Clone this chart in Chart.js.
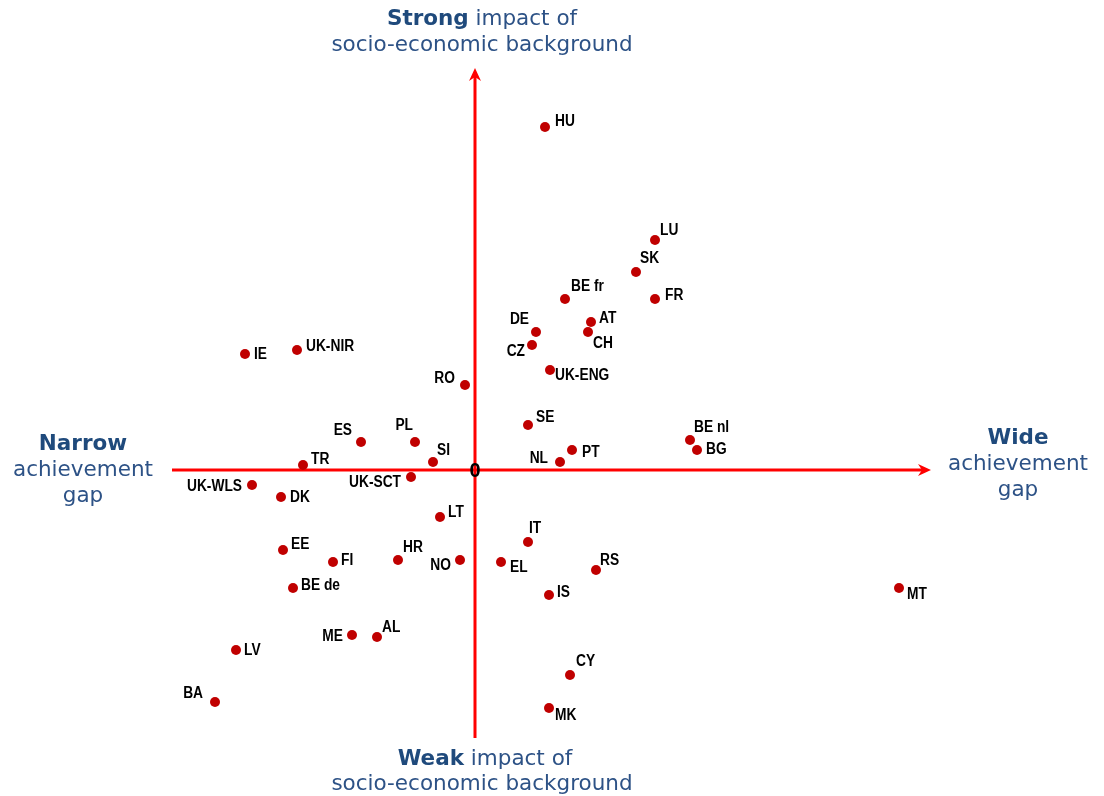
<!DOCTYPE html>
<html>
<head>
<meta charset="utf-8">
<title>Achievement gap vs socio-economic impact</title>
<script src="https://cdn.jsdelivr.net/npm/chart.js@4.4.1/dist/chart.umd.min.js"></script>
<style>
html, body { margin: 0; padding: 0; background: #ffffff; }
.chart-box { position: relative; width: 1104px; height: 796px; }
</style>
</head>
<body>
<div class="chart-box"><canvas id="chartCanvasQuadrant"></canvas></div>

<script>
// country codes and their position (x: achievement gap, y: impact of background)
var countries = ['HU','LU','SK','BE fr','FR','AT','DE','CH','CZ','UK-ENG',
  'RO','IE','UK-NIR','ES','PL','SI','TR','UK-SCT','UK-WLS','DK',
  'SE','PT','NL','BE nl','BG','LT','EE','FI','HR','NO',
  'BE de','ME','AL','LV','BA','IT','EL','RS','IS','MT','CY','MK'];
var gapValues = [7.0, 18.0, 16.1, 9.0, 18.0, 11.6, 6.1, 11.3, 5.7, 7.5,
  -1.0, -23.0, -17.8, -11.4, -6.0, -4.2, -17.2, -6.4, -22.3, -19.4,
  5.3, 9.7, 8.5, 21.5, 22.2, -3.5, -19.2, -14.2, -7.7, -1.5,
  -18.2, -12.3, -9.8, -23.9, -26.0, 5.3, 2.6, 12.1, 7.4, 42.4, 9.5, 7.4];
var impactValues = [34.3, 23.0, 19.8, 17.1, 17.1, 14.8, 13.8, 13.8, 12.5, 10.0,
  8.5, 11.6, 12.0, 2.8, 2.8, 0.8, 0.5, -0.7, -1.5, -2.7,
  4.5, 2.0, 0.8, 3.0, 2.0, -4.7, -8.0, -9.2, -9.0, -9.0,
  -11.8, -16.5, -16.7, -18.0, -23.2, -7.2, -9.2, -10.0, -12.5, -11.8, -20.5, -23.8];

// where each label sits next to its dot: [align, dx, dy]
var labelPlace = {
  'HU': ['left', 10, -5], 'LU': ['left', 5, -9], 'SK': ['left', 4, -13], 'BE fr': ['left', 6, -12],
  'FR': ['left', 10, -3], 'AT': ['left', 8, -3], 'DE': ['right', -7, -12], 'CH': ['left', 5, 12],
  'CZ': ['right', -7, 7], 'UK-ENG': ['left', 5, 6], 'RO': ['right', -10, -6], 'IE': ['left', 9, 1],
  'UK-NIR': ['left', 9, -3], 'ES': ['right', -9, -11], 'PL': ['right', -2, -16], 'SI': ['left', 4, -11],
  'TR': ['left', 8, -5], 'UK-SCT': ['right', -10, 6], 'UK-WLS': ['right', -10, 2], 'DK': ['left', 9, 1],
  'SE': ['left', 8, -7], 'PT': ['left', 10, 3], 'NL': ['right', -12, -3], 'BE nl': ['left', 4, -12],
  'BG': ['left', 9, 0], 'LT': ['left', 8, -4], 'EE': ['left', 8, -5], 'FI': ['left', 8, -1],
  'HR': ['left', 5, -12], 'NO': ['right', -9, 6], 'BE de': ['left', 8, -2], 'ME': ['right', -9, 2],
  'AL': ['left', 5, -9], 'LV': ['left', 8, 1], 'BA': ['right', -12, -8], 'IT': ['left', 1, -13],
  'EL': ['left', 9, 6], 'RS': ['left', 4, -9], 'IS': ['left', 8, -2], 'MT': ['left', 8, 7],
  'CY': ['left', 6, -13], 'MK': ['left', 6, 8]
};

var axisRed = '#ff0000';
var titleBlue = '#2d5286';
var titleBlueDark = '#1f4a7c';
var titleFont = '21.5px "DejaVu Sans"';

var points = [];
for (var i = 0; i < countries.length; i++) {
  points.push({ x: gapValues[i], y: impactValues[i], code: countries[i] });
}

function drawArrow(c, x, y, dir) {
  // filled notched arrowhead pointing along dir ('right' or 'up')
  c.save();
  c.translate(x, y);
  if (dir === 'up') c.rotate(-Math.PI / 2);
  c.beginPath();
  c.moveTo(0, 0);
  c.lineTo(-13, -6);
  c.lineTo(-9, 0);
  c.lineTo(-13, 6);
  c.closePath();
  c.fillStyle = axisRed;
  c.fill();
  c.restore();
}

function drawTitleLine(c, parts, cx, y) {
  var total = 0;
  for (var p = 0; p < parts.length; p++) {
    c.font = (parts[p].bold ? 'bold ' : '') + titleFont;
    parts[p].w = c.measureText(parts[p].t).width;
    total += parts[p].w;
  }
  var x = cx - total / 2;
  c.textAlign = 'left';
  c.textBaseline = 'middle';
  for (var q = 0; q < parts.length; q++) {
    c.font = (parts[q].bold ? 'bold ' : '') + titleFont;
    c.fillStyle = parts[q].bold ? titleBlueDark : titleBlue;
    c.fillText(parts[q].t, x, y);
    x += parts[q].w;
  }
}

var quadrantPlugin = {
  id: 'quadrant',
  beforeDatasetsDraw: function(chart) {
    var c = chart.ctx;
    var xs = chart.scales.x, ys = chart.scales.y;
    var x0 = xs.getPixelForValue(0), y0 = ys.getPixelForValue(0);
    var left = xs.getPixelForValue(-30.3), right = xs.getPixelForValue(45.6);
    var top = ys.getPixelForValue(40.2), bottom = ys.getPixelForValue(-26.8);
    c.save();
    c.strokeStyle = axisRed;
    c.lineWidth = 3;
    c.beginPath();
    c.moveTo(left, y0); c.lineTo(right - 8, y0);
    c.moveTo(x0, bottom); c.lineTo(x0, top + 8);
    c.stroke();
    drawArrow(c, right, y0, 'right');
    drawArrow(c, x0, top, 'up');
    c.restore();
  },
  afterDatasetsDraw: function(chart) {
    var c = chart.ctx;
    var xs = chart.scales.x, ys = chart.scales.y;
    var x0 = xs.getPixelForValue(0), y0 = ys.getPixelForValue(0);
    c.save();
    c.fillStyle = '#000000';
    c.font = 'bold 20px "Liberation Sans"';
    c.textAlign = 'center';
    c.textBaseline = 'middle';
    c.fillText('0', x0, y0 + 1);

    // country labels, slightly narrowed like the original
    c.font = 'bold 16px "Liberation Sans"';
    c.textBaseline = 'middle';
    var meta = chart.getDatasetMeta(0);
    for (var k = 0; k < meta.data.length; k++) {
      var el = meta.data[k];
      var code = points[k].code;
      var pl = labelPlace[code] || ['left', 8, 0];
      c.save();
      c.translate(el.x + pl[1], el.y + pl[2]);
      c.scale(0.86, 1);
      c.textAlign = pl[0];
      c.fillText(code, 0, 0);
      c.restore();
    }

    drawTitleLine(c, [{ t: 'Strong', bold: true }, { t: ' impact of' }], 482, 19);
    drawTitleLine(c, [{ t: 'socio-economic background' }], 482, 45);
    drawTitleLine(c, [{ t: 'Weak', bold: true }, { t: ' impact of' }], 485, 759);
    drawTitleLine(c, [{ t: 'socio-economic background' }], 482, 784);
    drawTitleLine(c, [{ t: 'Narrow', bold: true }], 83, 444);
    drawTitleLine(c, [{ t: 'achievement' }], 83, 470);
    drawTitleLine(c, [{ t: 'gap' }], 83, 496);
    drawTitleLine(c, [{ t: 'Wide', bold: true }], 1018, 438);
    drawTitleLine(c, [{ t: 'achievement' }], 1018, 464);
    drawTitleLine(c, [{ t: 'gap' }], 1018, 490);
    c.restore();
  }
};

var ctx = document.getElementById('chartCanvasQuadrant');
var quadChart = new Chart(ctx, {
  type: 'scatter',
  data: {
    datasets: [{
      label: 'Countries',
      data: points,
      backgroundColor: '#c00000',
      borderColor: '#c00000',
      borderWidth: 0,
      pointRadius: 5,
      pointHoverRadius: 5
    }]
  },
  options: {
    responsive: true,
    maintainAspectRatio: false,
    animation: false,
    layout: { padding: 0, autoPadding: false },
    plugins: {
      legend: { display: false },
      tooltip: { enabled: false }
    },
    scales: {
      x: { type: 'linear', min: -47.5, max: 62.9, display: false },
      y: { type: 'linear', min: -32.6, max: 47.0, display: false }
    }
  },
  plugins: [quadrantPlugin]
});
</script>
</body>
</html>
